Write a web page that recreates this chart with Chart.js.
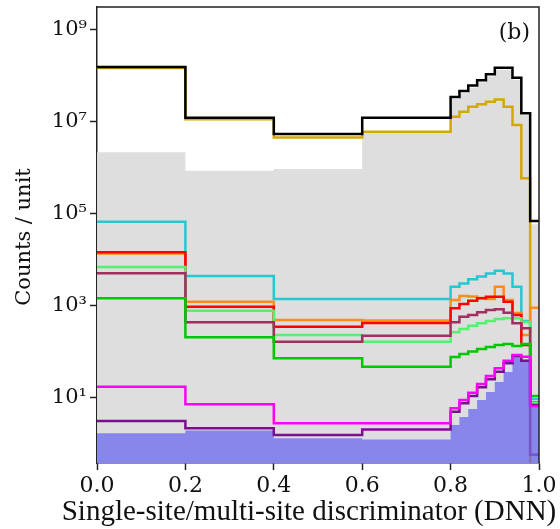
<!DOCTYPE html>
<html>
<head>
<meta charset="utf-8">
<script src="https://cdn.jsdelivr.net/npm/chart.js@4.4.1/dist/chart.umd.min.js"></script>
<style>
  html, body { margin: 0; padding: 0; background: #fff; }
  #wrap { width: 560px; height: 529px; }
</style>
</head>
<body>
<div id="wrap"><canvas id="chart" width="560" height="529"></canvas></div>
<script>
// bin edges: four wide bins, then 0.02 bins from 0.8 to 1.0
const binEdges = [0, 0.2, 0.4, 0.6, 0.8, 0.82, 0.84, 0.86, 0.88, 0.9, 0.92, 0.94, 0.96, 0.98, 1.0];

const blackLine = [1.57e8, 1.24e7, 5.5e6, 1.24e7, 3.5e7, 4.7e7, 6.2e7, 8.1e7, 1.09e8, 1.51e8, 1.51e8, 9.2e7, 1.55e7, 7e4];
const goldLine = [1.5e8, 1.15e7, 4.6e6, 6.1e6, 1.3e7, 1.67e7, 2.15e7, 2.43e7, 2.76e7, 3.1e7, 2.15e7, 8.6e6, 6e5, 0.01];
const greyFill = [2.2e6, 8.7e5, 9.5e5, 5.9e6, 3.15e7, 4.2e7, 5.6e7, 7.3e7, 9.8e7, 1.36e8, 1.36e8, 8.3e7, 1.4e7, 6e4];
const cyanLine = [6.8e4, 4.5e3, 1.42e3, 1.42e3, 2.63e3, 3.1e3, 3.8e3, 4.35e3, 5.1e3, 5.8e3, 5.1e3, 2.63e3, 470, 9.5];
const orangeLine = [1.38e4, 1.24e3, 497, 484, 1.35e3, 1.65e3, 1.61e3, 1.49e3, 1.42e3, 2.63e3, 1.35e3, 705, 234, 918];
const redLine = [1.47e4, 966, 355, 427, 891, 1.1e3, 1.3e3, 1.47e3, 1.59e3, 1.59e3, 1.24e3, 637, 142, 8];
const lightGreenLine = [7.05e3, 791, 234, 167, 268, 316, 373, 421, 472, 521, 541, 541, 449, 7.9];
const maroonLine = [5.14e3, 442, 167, 226, 442, 585, 637, 729, 819, 847, 714, 421, 327, 0.58];
const greenLine = [1.47e3, 209, 73, 48, 78, 90, 102, 116, 128, 142, 149, 135, 149, 11];
const magentaLine = [17.6, 7.3, 2.82, 2.82, 5.97, 9.05, 13, 20.1, 30.1, 44.3, 64.7, 86.1, 79, 6.5];
const purpleLine = [3.16, 2.19, 1.57, 2.07, 5.04, 7.67, 11, 17.1, 25.5, 37.3, 56.8, 81.8, 64.7, 7.05];
const blueFill = [1.71, 1.96, 1.33, 1.25, 2.59, 3.86, 5.77, 9.05, 13.5, 22.3, 36.7, 90.5, 60.7, 6.07];

const xTickValues = [0, 0.2, 0.4, 0.6, 0.8, 1.0];
const xTickLabels = ['0.0', '0.2', '0.4', '0.6', '0.8', '1.0'];
const yTickValues = [1e1, 1e3, 1e5, 1e7, 1e9];
const yTickLabels = ['10\u00B9', '10\u00B3', '10\u2075', '10\u2077', '10\u2079'];

// histogram -> step points (last edge closes the final bin)
function steps(vals) {
  const pts = vals.map((v, i) => ({ x: binEdges[i], y: v }));
  pts.push({ x: binEdges[binEdges.length - 1], y: vals[vals.length - 1] });
  return pts;
}

function histLine(vals, color, order) {
  return {
    data: steps(vals),
    borderColor: color,
    borderWidth: 2.5,
    stepped: true,
    fill: false,
    pointRadius: 0,
    order: order
  };
}

// don't let tick label overhang push the plot area around
function noPad(s) {
  s.paddingTop = 0;
  s.paddingBottom = 0;
  s.paddingLeft = 0;
  s.paddingRight = 0;
}

const frameAndText = {
  id: 'frameAndText',
  afterDraw(chart) {
    const { ctx, chartArea: a } = chart;
    ctx.save();
    ctx.strokeStyle = '#222';
    ctx.lineWidth = 1.5;
    ctx.beginPath();
    ctx.moveTo(a.left, a.top);
    ctx.lineTo(a.right, a.top);
    ctx.lineTo(a.right, a.bottom);
    ctx.stroke();

    ctx.fillStyle = '#111';
    ctx.font = '22px "DejaVu Serif"';
    ctx.textAlign = 'right';
    ctx.textBaseline = 'middle';
    ctx.fillText('(b)', a.right - 9, 33);

    ctx.save();
    ctx.translate(25, 237);
    ctx.rotate(-Math.PI / 2);
    ctx.textAlign = 'center';
    ctx.font = '21px "DejaVu Serif"';
    ctx.fillText('Counts / unit', 0, 0);
    ctx.restore();

    ctx.font = '29px "Liberation Serif"';
    ctx.textAlign = 'center';
    ctx.textBaseline = 'alphabetic';
    ctx.fillText('Single-site/multi-site discriminator (DNN)', 309, 520);
    ctx.restore();
  }
};

new Chart(document.getElementById('chart'), {
  type: 'line',
  data: {
    datasets: [
      {
        data: steps(greyFill),
        borderWidth: 0,
        borderColor: 'rgba(0,0,0,0)',
        backgroundColor: '#dedede',
        stepped: true,
        fill: 'start',
        pointRadius: 0,
        order: 20
      },
      histLine(goldLine, '#d2a900', 15),
      histLine(blackLine, '#000000', 14),
      histLine(cyanLine, '#22c8d2', 10),
      histLine(orangeLine, '#ff8c1a', 9),
      histLine(redLine, '#ff0000', 8),
      histLine(lightGreenLine, '#55f070', 7),
      histLine(maroonLine, '#a03060', 6),
      histLine(greenLine, '#00c800', 5),
      {
        data: steps(blueFill),
        borderWidth: 0,
        borderColor: 'rgba(0,0,0,0)',
        backgroundColor: 'rgba(100,100,240,0.72)',
        stepped: true,
        fill: 'start',
        pointRadius: 0,
        order: 3
      },
      histLine(purpleLine, '#7a1090', 2),
      histLine(magentaLine, '#ff00ff', 1)
    ]
  },
  options: {
    responsive: false,
    animation: false,
    devicePixelRatio: 1,
    layout: { padding: { top: 7, right: 21, left: 0, bottom: 0 } },
    plugins: {
      legend: { display: false },
      tooltip: { enabled: false }
    },
    scales: {
      x: {
        type: 'linear',
        min: 0,
        max: 1,
        afterBuildTicks: s => { s.ticks = xTickValues.map(v => ({ value: v })); },
        afterFit: s => { s.height = 66; noPad(s); },
        ticks: {
          color: '#111',
          font: { family: 'DejaVu Serif', size: 22 },
          padding: 3,
          maxRotation: 0,
          callback: (v, i) => xTickLabels[i]
        },
        grid: { drawOnChartArea: false, tickLength: 7, tickColor: '#222', tickWidth: 1.5 },
        border: { display: true, color: '#222', width: 1.5 }
      },
      y: {
        type: 'logarithmic',
        min: 0.386,
        max: 3.16e9,
        afterBuildTicks: s => { s.ticks = yTickValues.map(v => ({ value: v })); },
        afterFit: s => { s.width = 97; noPad(s); },
        ticks: {
          color: '#111',
          font: { family: 'DejaVu Serif', size: 21 },
          padding: 3,
          callback: (v, i) => yTickLabels[i]
        },
        grid: { drawOnChartArea: false, tickLength: 7, tickColor: '#222', tickWidth: 1.5 },
        border: { display: true, color: '#222', width: 1.5 }
      }
    }
  },
  plugins: [frameAndText]
});
</script>
</body>
</html>
